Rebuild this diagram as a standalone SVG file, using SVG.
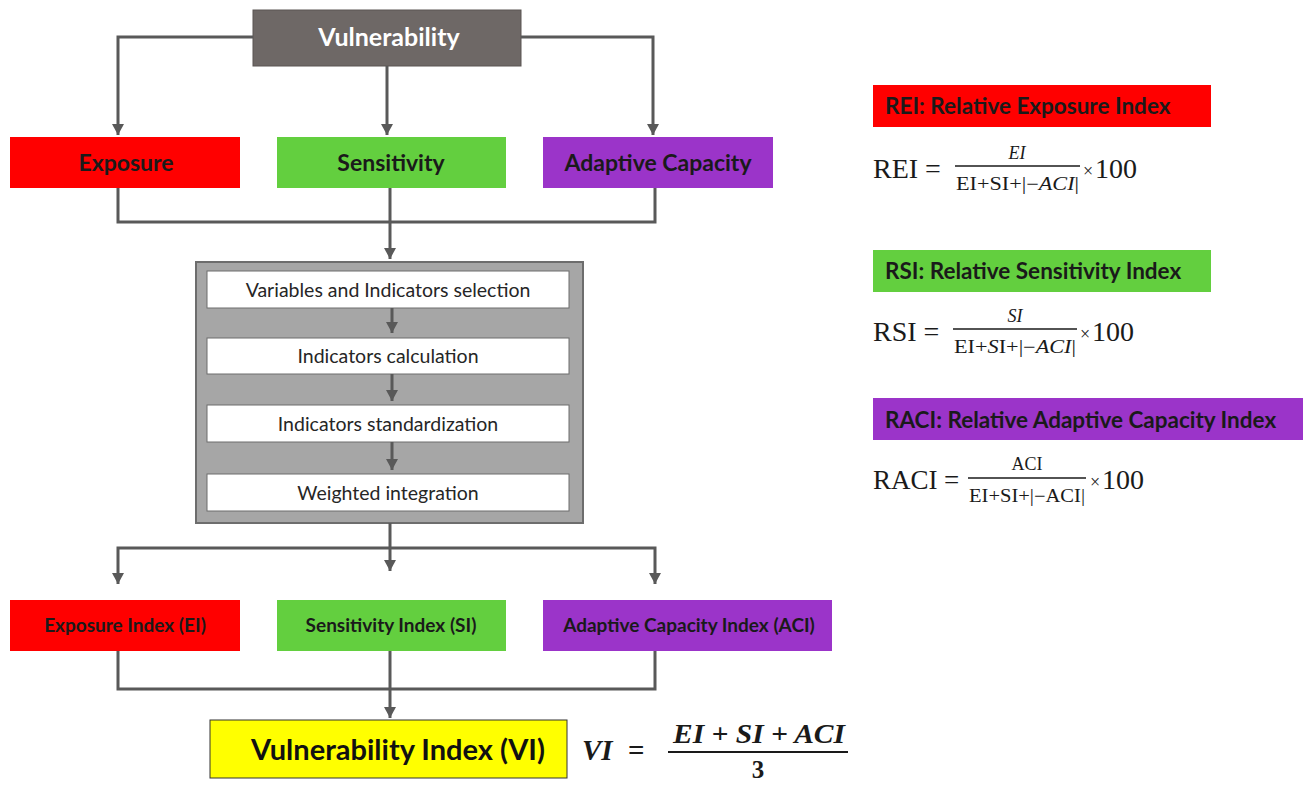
<svg xmlns="http://www.w3.org/2000/svg" width="1306" height="785" viewBox="0 0 1306 785">
<defs>
<marker id="ah" markerUnits="userSpaceOnUse" markerWidth="12" markerHeight="12" refX="11" refY="6" orient="auto">
<path d="M0,0 L11,6 L0,12 z" fill="#595959"/>
</marker>
<style>
.ln{fill:none;stroke:#595959;stroke-width:3}
.lbl{font-family:Lato,"Open Sans",sans-serif;font-weight:bold;text-anchor:middle;fill:#1a1a1a}
.step{font-family:Lato,"Open Sans",sans-serif;font-size:19.5px;text-anchor:middle;fill:#262626}
.wb{fill:#ffffff;stroke:#6d6d6d;stroke-width:1}
.math{font-family:"Liberation Serif","DejaVu Serif",serif;fill:#1a1a1a}
.hdr{font-family:Lato,"Open Sans",sans-serif;font-weight:bold;font-size:22.5px;fill:#1a1a1a}
</style>
</defs>
<rect width="1306" height="785" fill="#ffffff"/>

<g id="vulnerability">
<rect x="253" y="10" width="268" height="56" fill="#6e6866" stroke="#5a5452" stroke-width="1"/>
<text x="389" y="46" class="lbl" font-size="25" style="fill:#ffffff">Vulnerability</text>
</g>

<g id="exposure">
<rect x="10" y="137" width="230" height="51" fill="#ff0000"/>
<text x="126" y="171" class="lbl" font-size="23">Exposure</text>
</g>
<g id="sensitivity">
<rect x="277" y="137" width="229" height="51" fill="#63cf3f"/>
<text x="391" y="171" class="lbl" font-size="23">Sensitivity</text>
</g>
<g id="adaptive-capacity">
<rect x="543" y="137" width="230" height="51" fill="#9b34c9"/>
<text x="658" y="171" class="lbl" font-size="23">Adaptive Capacity</text>
</g>

<g id="process">
<rect x="196" y="262" width="387" height="261" fill="#a6a6a6" stroke="#6d6d6d" stroke-width="2"/>
<g id="step1"><rect class="wb" x="207" y="271" width="362" height="37"/><text class="step" x="388" y="297">Variables and Indicators selection</text></g>
<g id="step2"><rect class="wb" x="207" y="338" width="362" height="36"/><text class="step" x="388" y="363">Indicators calculation</text></g>
<g id="step3"><rect class="wb" x="207" y="405" width="362" height="37"/><text class="step" x="388" y="431">Indicators standardization</text></g>
<g id="step4"><rect class="wb" x="207" y="474" width="362" height="37"/><text class="step" x="388" y="500">Weighted integration</text></g>
</g>

<g id="exposure-index">
<rect x="10" y="600" width="230" height="51" fill="#ff0000"/>
<text x="125" y="632" class="lbl" font-size="19">Exposure Index (EI)</text>
</g>
<g id="sensitivity-index">
<rect x="277" y="600" width="229" height="51" fill="#63cf3f"/>
<text x="391" y="632" class="lbl" font-size="19">Sensitivity Index (SI)</text>
</g>
<g id="adaptive-capacity-index">
<rect x="543" y="600" width="289" height="51" fill="#9b34c9"/>
<text x="689" y="632" class="lbl" font-size="19">Adaptive Capacity Index (ACI)</text>
</g>

<g id="vulnerability-index">
<rect x="210" y="720" width="357" height="58" fill="#ffff00" stroke="#333333" stroke-width="1"/>
<text x="398" y="760" class="lbl" font-size="29" style="fill:#111">Vulnerability Index (VI)</text>
</g>

<g id="connectors">
<path class="ln" d="M253,37 H118 V135" marker-end="url(#ah)"/>
<path class="ln" d="M521,37 H653 V135" marker-end="url(#ah)"/>
<path class="ln" d="M387,66 V135" marker-end="url(#ah)"/>
<path class="ln" d="M118,188 V222 H655 V188"/>
<path class="ln" d="M390,188 V259" marker-end="url(#ah)"/>
<path class="ln" d="M392,308 V333" stroke-width="2.5" marker-end="url(#ah)"/>
<path class="ln" d="M392,374 V401" stroke-width="2.5" marker-end="url(#ah)"/>
<path class="ln" d="M392,442 V470" stroke-width="2.5" marker-end="url(#ah)"/>
<path class="ln" d="M390,523 V571" marker-end="url(#ah)"/>
<path class="ln" d="M390,548 H118 V584" marker-end="url(#ah)"/>
<path class="ln" d="M390,548 H655 V584" marker-end="url(#ah)"/>
<path class="ln" d="M118,651 V689 H655 V651"/>
<path class="ln" d="M390,651 V718" marker-end="url(#ah)"/>
</g>

<g id="vi-formula" class="math" font-weight="bold" font-style="italic">
<text x="582" y="760" font-size="29">VI</text>
<text x="628" y="760" font-size="29" font-style="normal">=</text>
<text x="673" y="743" font-size="27" textLength="172" lengthAdjust="spacingAndGlyphs">EI + SI + ACI</text>
<line x1="668" y1="752" x2="848" y2="752" stroke="#1a1a1a" stroke-width="2"/>
<text x="758" y="778" font-size="25" text-anchor="middle" font-style="normal">3</text>
</g>

<g id="rei">
<rect x="873" y="85" width="338" height="42" fill="#ff0000"/>
<text x="885" y="114" class="hdr">REI: Relative Exposure Index</text>
<g class="math">
<text x="873" y="178" font-size="28">REI =</text>
<text x="1017" y="159" font-size="18" font-style="italic" text-anchor="middle">EI</text>
<line x1="955" y1="166" x2="1080" y2="166" stroke="#1a1a1a" stroke-width="1.3"/>
<text x="956" y="190" font-size="18" textLength="123" lengthAdjust="spacingAndGlyphs">EI+SI+|−<tspan font-style="italic">ACI</tspan>|</text>
<text x="1083" y="177" font-size="18">×</text>
<text x="1095" y="178" font-size="28">100</text>
</g>
</g>

<g id="rsi">
<rect x="873" y="250" width="338" height="42" fill="#63cf3f"/>
<text x="885" y="279" class="hdr">RSI: Relative Sensitivity Index</text>
<g class="math">
<text x="873" y="341" font-size="28">RSI =</text>
<text x="1015" y="322" font-size="18" font-style="italic" text-anchor="middle">SI</text>
<line x1="953" y1="329" x2="1077" y2="329" stroke="#1a1a1a" stroke-width="1.3"/>
<text x="954" y="353" font-size="18" textLength="122" lengthAdjust="spacingAndGlyphs">EI+<tspan font-style="italic">S</tspan>I+|−<tspan font-style="italic">ACI</tspan>|</text>
<text x="1080" y="340" font-size="18">×</text>
<text x="1092" y="341" font-size="28">100</text>
</g>
</g>

<g id="raci">
<rect x="873" y="398" width="430" height="42" fill="#9b34c9"/>
<text x="885" y="428" class="hdr">RACI: Relative Adaptive Capacity Index</text>
<g class="math">
<text x="873" y="489" font-size="27">RACI</text>
<text x="944" y="489" font-size="27">=</text>
<text x="1027" y="470" font-size="18" text-anchor="middle">ACI</text>
<line x1="968" y1="478" x2="1086" y2="478" stroke="#1a1a1a" stroke-width="1.3"/>
<text x="969" y="502" font-size="18" textLength="116" lengthAdjust="spacingAndGlyphs">EI+SI+|−ACI|</text>
<text x="1090" y="488" font-size="18">×</text>
<text x="1102" y="489" font-size="28">100</text>
</g>
</g>
</svg>
